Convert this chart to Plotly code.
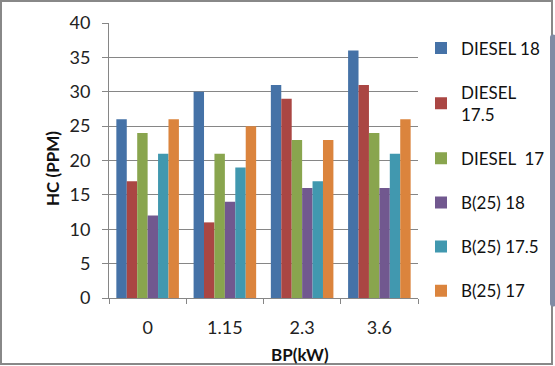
import plotly.graph_objects as go

categories = ["0", "1.15", "2.3", "3.6"]
series_names = ["DIESEL 18", "DIESEL<br>17.5", "DIESEL  17", "B(25) 18", "B(25) 17.5", "B(25) 17"]
diesel_18 = [26, 30, 31, 36]
diesel_17_5 = [17, 11, 29, 31]
diesel_17 = [24, 21, 23, 24]
b25_18 = [12, 14, 16, 16]
b25_17_5 = [21, 19, 17, 21]
b25_17 = [26, 25, 23, 26]
y_ticks = [0, 5, 10, 15, 20, 25, 30, 35, 40]

values = [diesel_18, diesel_17_5, diesel_17, b25_18, b25_17_5, b25_17]
colors = ["#4572A7", "#AA4643", "#89A54E", "#71588F", "#4198AF", "#DB843D"]

W, H = 555, 366
ml, mt, mb = 109, 23, 68
plot_right = 418
mr = 0
pw, ph = W - ml - mr, H - mt - mb
dom_r = (plot_right - ml) / pw


def px_x(x):
    return (x - ml) / pw


def px_y(y):
    return 1 - (y - mt) / ph


fig = go.Figure()
for i, (name, vals, col) in enumerate(zip(series_names, values, colors)):
    fig.add_trace(go.Bar(x=categories, y=vals, name=name, marker_color=col,
                         marker_line_width=0, legendgroup=str(i)))

font_fam = "Lato, 'Liberation Sans', sans-serif"
fig.update_layout(
    width=W, height=H, autosize=False,
    margin=dict(l=ml, r=mr, t=mt, b=mb, autoexpand=False),
    paper_bgcolor="white", plot_bgcolor="white",
    barmode="group", bargap=0.19, bargroupgap=0,
    font=dict(family=font_fam, size=17, color="#222"),
    showlegend=True,
    legend=dict(x=px_x(421), y=px_y(168), yanchor="middle", xanchor="left",
                font=dict(size=17, color="#111"), tracegroupgap=19,
                itemwidth=30, traceorder="grouped", bgcolor="rgba(0,0,0,0)"),
    xaxis=dict(type="category", domain=[0, dom_r], showline=True, linecolor="#868686",
               linewidth=1, ticks="outside", tickson="boundaries", ticklen=5,
               tickcolor="#868686", showgrid=False, ticklabelstandoff=13,
               tickfont=dict(size=18, color="#222")),
    yaxis=dict(range=[0, 40], tickvals=y_ticks, showline=True, linecolor="#868686",
               linewidth=1, ticks="outside", ticklen=6, tickcolor="#868686",
               showgrid=True, gridcolor="#868686", gridwidth=1, ticklabelstandoff=8,
               tickfont=dict(size=18, color="#222")),
    annotations=[
        dict(text="<b>BP(kW)</b>", xref="paper", yref="paper",
             x=px_x(300), y=px_y(354), showarrow=False,
             font=dict(size=17, color="#111"), xanchor="center", yanchor="middle"),
        dict(text="<b>HC (PPM)</b>", xref="paper", yref="paper", textangle=-90,
             x=px_x(52), y=px_y(168), showarrow=False,
             font=dict(size=17, color="#111"), xanchor="center", yanchor="middle"),
    ],
    shapes=[dict(type="rect", xref="paper", yref="paper",
                 x0=px_x(1), x1=px_x(W - 3),
                 y0=px_y(H - 2), y1=px_y(1),
                 line=dict(color="#888888", width=2), fillcolor="rgba(0,0,0,0)")],
)
fig.write_html("out.html", config={"displayModeBar": False},
               post_script="document.body.style.margin='0';document.body.style.padding='0';")
